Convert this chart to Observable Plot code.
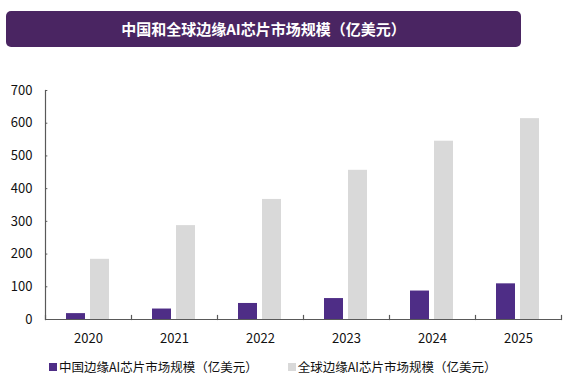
<!DOCTYPE html>
<html>
<head>
<meta charset="utf-8">
<script src="https://cdn.jsdelivr.net/npm/d3@7"></script>
<script src="https://cdn.jsdelivr.net/npm/@observablehq/plot@0.6"></script>
<style>
  body { margin: 0; background: #fff; font-family: "Noto Sans CJK SC", "Noto Sans", sans-serif; }
  #wrap { width: 581px; height: 379px; position: relative; overflow: hidden; }
  #title { position: absolute; left: 6px; top: 11px; width: 515px; height: 36px; background: #4a2562; border-radius: 5px; color: #fff; font-weight: bold; font-size: 15px; line-height: 36px; text-align: center; }
  #chart { position: absolute; left: 0; top: 60px; }
  #legend { position: absolute; left: 49px; top: 358px; display: flex; gap: 30px; font-size: 12.5px; color: #111; line-height: 18px; }
  .item { display: flex; align-items: center; }
  .sw { width: 8px; height: 8px; margin-right: 2px; }
</style>
</head>
<body>
<div id="wrap">
  <div id="title">中国和全球边缘AI芯片市场规模（亿美元）</div>
  <div id="chart"></div>
  <div id="legend"></div>
</div>
<script>
const years = ["2020", "2021", "2022", "2023", "2024", "2025"];
const seriesNames = ["中国边缘AI芯片市场规模（亿美元）", "全球边缘AI芯片市场规模（亿美元）"];
const chinaValues = [18, 32, 49, 64, 87, 109];
const globalValues = [184, 287, 367, 456, 545, 614];
const colors = ["#4e2d86", "#d9d9d9"];
const yTicks = [0, 100, 200, 300, 400, 500, 600, 700];

const data = [];
years.forEach((y, i) => {
  data.push({year: y, series: seriesNames[0], value: chinaValues[i]});
  data.push({year: y, series: seriesNames[1], value: globalValues[i]});
});

const W = 581, H = 290, MT = 30, MB = 31, ML = 43, MR = 18;
const facetW = (W - ML - MR) / years.length;
const axisColor = "#595959";

const chart = Plot.plot({
  width: W,
  height: H,
  marginTop: MT,
  marginBottom: MB,
  marginLeft: ML,
  marginRight: MR,
  style: {fontFamily: "'Noto Sans CJK SC', 'Noto Sans', sans-serif", fontSize: "13px", color: "#111", background: "transparent"},
  fx: {domain: years, padding: 0, label: null},
  x: {domain: seriesNames, paddingInner: 0.2, paddingOuter: 0.834, axis: null},
  y: {domain: [0, 700], label: null},
  color: {domain: seriesNames, range: colors},
  marks: [
    Plot.barY(data, {fx: "year", x: "series", y: "value", fill: "series"}),
    Plot.ruleY([0], {stroke: axisColor, strokeWidth: 1.2}),
    Plot.frame({anchor: "left", facetAnchor: "left", stroke: axisColor, strokeWidth: 1.2}),
    Plot.frame({anchor: "left", stroke: axisColor, insetTop: H - MT - MB - 4, strokeWidth: 1.2}),
    Plot.frame({anchor: "right", facetAnchor: "right", stroke: axisColor, insetTop: H - MT - MB - 4, strokeWidth: 1.2}),
    Plot.tickY(yTicks, {y: d => d, facetAnchor: "left", stroke: axisColor, insetRight: facetW - 3}),
    Plot.axisY({ticks: yTicks, tickSize: 0, tickPadding: 13, fontSize: 13, fill: "#111"}),
    Plot.axisFx({anchor: "bottom", tickSize: 0, tickPadding: 14, fontSize: 13, fill: "#111", label: null})
  ]
});
document.getElementById("chart").appendChild(chart);

const legend = document.getElementById("legend");
seriesNames.forEach((name, i) => {
  const it = document.createElement("div");
  it.className = "item";
  const sw = document.createElement("span");
  sw.className = "sw";
  sw.style.background = colors[i];
  const tx = document.createElement("span");
  tx.textContent = name;
  it.appendChild(sw);
  it.appendChild(tx);
  legend.appendChild(it);
});
</script>
</body>
</html>
